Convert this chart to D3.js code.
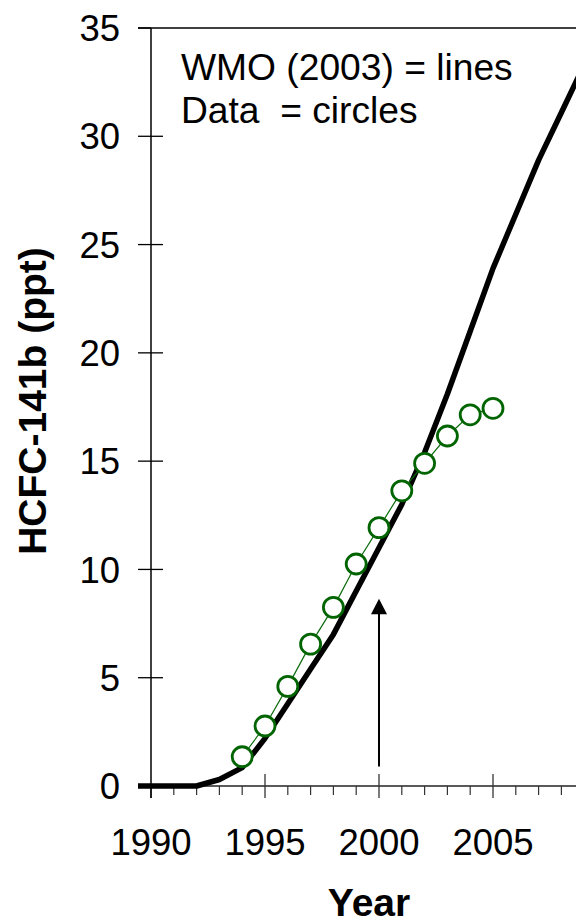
<!DOCTYPE html>
<html><head><meta charset="utf-8">
<script src="https://cdn.jsdelivr.net/npm/d3@7"></script>
<style>
html,body{margin:0;padding:0;background:#fff;}
svg{display:block;font-family:"Liberation Sans",Arial,sans-serif;}
</style></head>
<body>
<svg id="c" width="576" height="923"></svg>
<script>
// WMO (2003) scenario line
const wmoYears  = [1989,1990,1991,1992,1993,1994,1995,1996,1997,1998,1999,2000,2001,2002,2003,2004,2005,2006,2007,2008,2009,2010];
const wmoValues = [0,0,0,0,0.3,0.85,2.2,3.8,5.4,7.0,9.0,11.0,13.0,15.4,18.1,21.0,23.9,26.4,28.9,31.1,33.3,35.4];
// Observations
const obsYears  = [1994,1995,1996,1997,1998,1999,2000,2001,2002,2003,2004,2005];
const obsValues = [1.35,2.77,4.6,6.55,8.25,10.25,11.93,13.63,14.9,16.16,17.14,17.44];
// Ticks
const yTicks = [0,5,10,15,20,25,30,35];
const xMajorTicks = [1990,1995,2000,2005];
const xMinorTicks = d3.range(1990,2011);
// Annotation arrow (year, from value, to value)
const arrowYear = 2000, arrowFrom = 0.9, arrowTo = 8.65;
const legendLines = ["WMO (2003) = lines","Data  = circles"];
const xTitle = "Year", yTitle = "HCFC-141b (ppt)";

const svg = d3.select("#c");
const x = d3.scaleLinear().domain([1990,2010]).range([151,607]);
const y = d3.scaleLinear().domain([0,35]).range([786,28]);
const left = 138;

svg.append("defs").append("clipPath").attr("id","clip")
  .append("rect").attr("x",left).attr("y",20).attr("width",576-left).attr("height",786-20+4);

// top frame line
svg.append("line").attr("x1",left).attr("x2",576).attr("y1",y(35)).attr("y2",y(35))
  .attr("stroke","#000").attr("stroke-width",1.3);

// x axis
const gx = svg.append("g");
gx.append("line").attr("x1",left).attr("x2",576).attr("y1",y(0)).attr("y2",y(0))
  .attr("stroke","#222").attr("stroke-width",1.3);
gx.selectAll(".mn").data(xMinorTicks.filter(d=>!xMajorTicks.includes(d))).join("line")
  .attr("x1",d=>x(d)).attr("x2",d=>x(d)).attr("y1",y(0)).attr("y2",y(0)+9)
  .attr("stroke","#333").attr("stroke-width",1.2);
gx.selectAll(".mj").data(xMajorTicks).join("line")
  .attr("x1",d=>x(d)).attr("x2",d=>x(d)).attr("y1",d=>d===1990?y(0):y(0)-12).attr("y2",y(0)+12)
  .attr("stroke","#333").attr("stroke-width",1.3);
gx.selectAll("text").data(xMajorTicks).join("text")
  .attr("x",d=>x(d)).attr("y",855).attr("text-anchor","middle")
  .attr("font-size",36.5).text(d=>d);

// y axis
const gy = svg.append("g");
gy.append("line").attr("x1",x(1990)).attr("x2",x(1990)).attr("y1",y(35)).attr("y2",y(0)+12)
  .attr("stroke","#000").attr("stroke-width",1.5);
gy.selectAll("line.t").data(yTicks).join("line").attr("class","t")
  .attr("x1",left).attr("x2",d=>d===35?x(1990):163).attr("y1",d=>y(d)).attr("y2",d=>y(d))
  .attr("stroke","#000").attr("stroke-width",1.3);
gy.selectAll("text").data(yTicks).join("text")
  .attr("x",120).attr("y",d=>y(d)).attr("dy","0.36em").attr("text-anchor","end")
  .attr("font-size",36.5).text(d=>d);

// plot content
const plot = svg.append("g").attr("clip-path","url(#clip)");
const wmo = wmoYears.map((d,i)=>[d,wmoValues[i]]);
plot.append("path").datum(wmo)
  .attr("d",d3.line().x(d=>x(d[0])).y(d=>y(d[1])))
  .attr("fill","none").attr("stroke","#000").attr("stroke-width",5.5).attr("stroke-linejoin","round");

const obs = obsYears.map((d,i)=>[d,obsValues[i]]);
plot.append("path").datum(obs)
  .attr("d",d3.line().x(d=>x(d[0])).y(d=>y(d[1])))
  .attr("fill","none").attr("stroke","#0b6b0b").attr("stroke-width",1.2);
plot.selectAll("circle").data(obs).join("circle")
  .attr("cx",d=>x(d[0])).attr("cy",d=>y(d[1])).attr("r",10)
  .attr("fill","#fff").attr("stroke","#006400").attr("stroke-width",2.8);

// arrow
const ax = x(arrowYear), ay0 = y(arrowFrom), ay1 = y(arrowTo);
svg.append("line").attr("x1",ax).attr("x2",ax).attr("y1",ay0).attr("y2",ay1+14)
  .attr("stroke","#000").attr("stroke-width",2);
svg.append("path").attr("d",`M${ax},${ay1} L${ax-8},${ay1+15.5} L${ax+8},${ay1+15.5} Z`).attr("fill","#000");

// legend
svg.selectAll("text.leg").data(legendLines).join("text").attr("class","leg")
  .attr("x",181).attr("y",(d,i)=>80+i*43.3).attr("font-size",37.2)
  .style("white-space","pre").attr("xml:space","preserve").text(d=>d);

// titles
svg.append("text").attr("x",369).attr("y",916).attr("text-anchor","middle")
  .attr("font-size",39).attr("font-weight","bold").text(xTitle);
svg.append("text").attr("transform","translate(46,401) rotate(-90)").attr("text-anchor","middle")
  .attr("font-size",39).attr("font-weight","bold").text(yTitle);
</script>
</body></html>
